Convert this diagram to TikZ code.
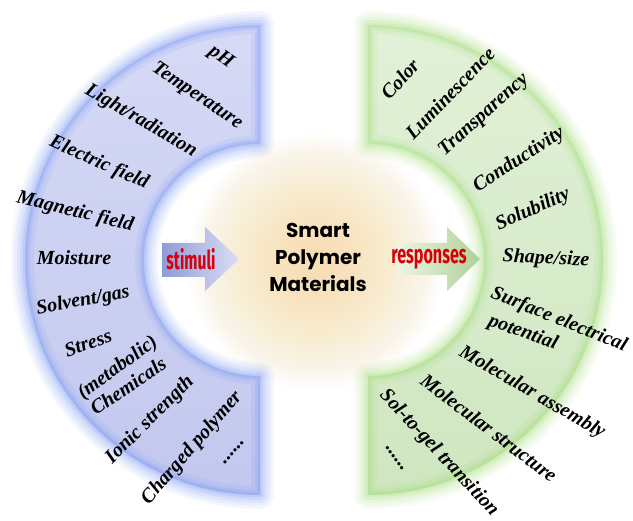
\documentclass[tikz,border=0pt]{standalone}
\usepackage{fontspec}
\usepackage{graphicx}
\setmainfont{Liberation Serif}
\newfontfamily\popfont{Poppins}
\newfontfamily\firafont{Fira Sans}
\definecolor{bandL}{RGB}{214,218,246}
\definecolor{bandLd}{RGB}{194,200,238}
\definecolor{glowL}{RGB}{120,150,245}
\definecolor{bandR}{RGB}{226,241,216}
\definecolor{bandRd}{RGB}{206,230,192}
\definecolor{glowR}{RGB}{160,222,115}
\definecolor{core}{RGB}{248,222,165}
\definecolor{labred}{RGB}{215,0,10}
\begin{document}
\begin{tikzpicture}[x=1pt,y=-1pt,
  lbl/.style={font=\fontsize{20}{22}\selectfont\bfseries\itshape, inner sep=0pt},
  arrowtxt/.style={font=\fontsize{26}{28}\selectfont\firafont\bfseries, text=labred, inner sep=0pt},
  coretxt/.style={font=\fontsize{20}{27}\selectfont\popfont\bfseries, align=center, inner sep=0pt}]
\useasboundingbox (0,0) rectangle (633,521);
\fill[white] (0,0) rectangle (633,521);
% soft central glow
\foreach \r in {4,8,...,128}{
  \fill[core, opacity=0.045] (316,262) circle[radius=\r];
}
% glows
\foreach \w/\o in {28/.07,22/.09,16/.11,10/.14,5/.18}{
  \draw[glowL, line width=\w, opacity=\o, line join=round]
    (260,25) arc[start angle=270,end angle=90,radius=235] -- (260,376) arc[start angle=90,end angle=270,radius=116] -- cycle;
  \draw[glowR, line width=\w, opacity=\o, line join=round]
    (368,25) arc[start angle=270,end angle=450,radius=235] -- (368,376) arc[start angle=90,end angle=-90,radius=116] -- cycle;
}
% fills
\shade[top color=bandL, bottom color=bandLd]
  (260,25) arc[start angle=270,end angle=90,radius=235] -- (260,376) arc[start angle=90,end angle=270,radius=116] -- cycle;
\shade[top color=bandR, bottom color=bandRd]
  (368,25) arc[start angle=270,end angle=450,radius=235] -- (368,376) arc[start angle=90,end angle=-90,radius=116] -- cycle;
% inner edges
\begin{scope}
  \clip (260,25) arc[start angle=270,end angle=90,radius=235] -- (260,376) arc[start angle=90,end angle=270,radius=116] -- cycle;
  \foreach \w/\o in {18/.12,10/.18,5/.25}{
  \draw[glowL, line width=\w, opacity=\o]
    (260,25) arc[start angle=270,end angle=90,radius=235] -- (260,376) arc[start angle=90,end angle=270,radius=116] -- cycle;}
\end{scope}
\begin{scope}
  \clip (368,25) arc[start angle=270,end angle=450,radius=235] -- (368,376) arc[start angle=90,end angle=-90,radius=116] -- cycle;
  \foreach \w/\o in {18/.12,10/.18,5/.25}{
  \draw[glowR, line width=\w, opacity=\o]
    (368,25) arc[start angle=270,end angle=450,radius=235] -- (368,376) arc[start angle=90,end angle=-90,radius=116] -- cycle;}
\end{scope}
% arrows
\shade[left color={rgb,255:red,145;green,155;blue,215}, right color={rgb,255:red,218;green,222;blue,245}]
  (162,243) -- (205,243) -- (205,227) -- (239,259) -- (205,291) -- (205,277) -- (162,277) -- cycle;
\shade[left color={rgb,255:red,238;green,244;blue,230}, right color={rgb,255:red,172;green,210;blue,148}]
  (398,243) -- (447,243) -- (447,227) -- (480,259) -- (447,291) -- (447,275) -- (398,275) -- cycle;
\node[arrowtxt] (stim) at (191,259) {\scalebox{0.6}[1]{stimuli}};
\node[arrowtxt] (resp) at (429,259) {\scalebox{0.62}[1]{responses}};
\node[coretxt] (core) at (318,257) {Smart\\Polymer\\Materials};
% stimuli labels
\node[lbl, rotate=-35] (l1) at (221,57) {pH};
\node[lbl, rotate=-34] (l2) at (197,96) {Temperature};
\node[lbl, rotate=-30] (l3) at (141,121) {Light/radiation};
\node[lbl, rotate=-24] (l4) at (99,163) {Electric field};
\node[lbl, rotate=-14] (l5) at (75,212) {Magnetic field};
\node[lbl, rotate=0] (l6) at (74,258) {Moisture};
\node[lbl, rotate=11] (l7) at (83,301) {Solvent/gas};
\node[lbl, rotate=20] (l8) at (88,343) {Stress};
\node[lbl, rotate=36] (l9) at (118,368) {(metabolic)};
\node[lbl, rotate=34] (l10) at (128,386) {Chemicals};
\node[lbl, rotate=45] (l11) at (150,420) {Ionic strength};
\node[lbl, rotate=49] (l12) at (192,448) {Charged polymer};
\node[lbl, rotate=48] (l13) at (234,452) {......};
% response labels
\node[lbl, rotate=48] (r1) at (400,79) {Color};
\node[lbl, rotate=46] (r2) at (450,93) {Luminescence};
\node[lbl, rotate=42] (r3) at (484,115) {Transparency};
\node[lbl, rotate=33] (r4) at (519,160) {Conductivity};
\node[lbl, rotate=24] (r5) at (533,210) {Solubility};
\node[lbl, rotate=-3] (r6) at (546,259) {Shape/size};
\node[lbl, rotate=-22] (r7) at (559,320) {Surface electrical};
\node[lbl, rotate=-20] (r8) at (523,333) {potential};
\node[lbl, rotate=-30] (r9) at (532,393) {Molecular assembly};
\node[lbl, rotate=-37] (r10) at (489,428) {Molecular structure};
\node[lbl, rotate=-47] (r11) at (439,453) {Sol-to-gel transition};
\node[lbl, rotate=-55] (r12) at (395,459) {......};
\end{tikzpicture}
\end{document}
